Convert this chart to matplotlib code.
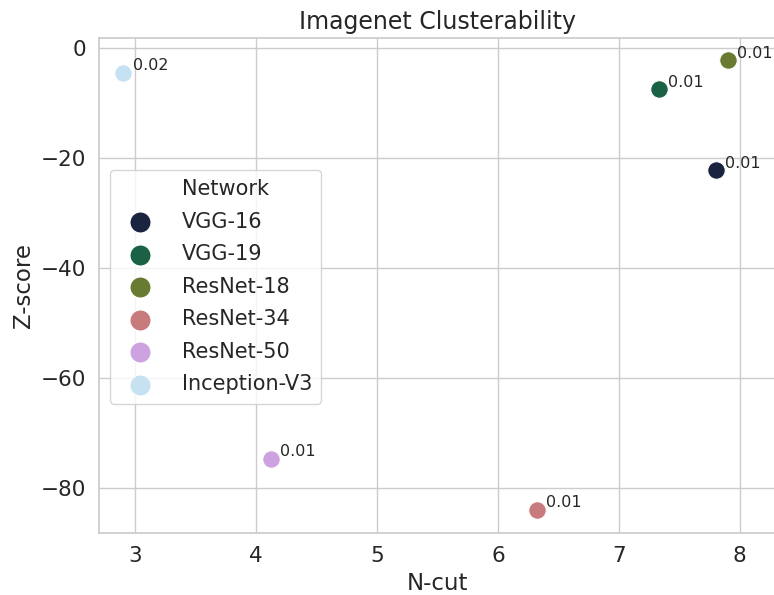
import matplotlib
matplotlib.use("Agg")
import matplotlib.pyplot as plt
import seaborn as sns

networks = ["VGG-16", "VGG-19", "ResNet-18", "ResNet-34", "ResNet-50", "Inception-V3"]
ncut = [7.80, 7.33, 7.90, 6.32, 4.12, 2.90]
zscore = [-22.2, -7.5, -2.2, -84.0, -74.7, -4.5]
pvalues = ["0.01", "0.01", "0.01", "0.01", "0.01", "0.02"]

sns.set_theme(style="whitegrid")
palette = sns.color_palette("cubehelix", len(networks))

W, H = 774, 595
fig = plt.figure(figsize=(W / 100, H / 100), dpi=100)
left, right, top, bottom = 99, 776, 37.5, 533
ax = fig.add_axes([left / W, 1 - bottom / H, (right - left) / W, (bottom - top) / H])

for name, x, y, c in zip(networks, ncut, zscore, palette):
    ax.scatter(x, y, s=160, color=c, label=name, edgecolor="white", linewidth=0.8, zorder=3)

for x, y, p in zip(ncut, zscore, pvalues):
    ax.annotate(p, (x, y), xytext=(7, 5), textcoords="offset points",
                fontsize=11.5, color="#262626", va="center", ha="left")

ax.set_xlim(2.70, 8.30)
ax.set_ylim(-88.2, 1.9)
ax.set_xlabel("N-cut", fontsize=16.5)
ax.set_ylabel("Z-score", fontsize=16.5)
ax.set_title("Imagenet Clusterability", fontsize=17)
ax.tick_params(axis="both", labelsize=15.5)

handles, labels = ax.get_legend_handles_labels()
title_handle = plt.Line2D([], [], linestyle="none", marker="")
leg = ax.legend([title_handle] + handles, ["Network"] + labels,
                loc="upper left", bbox_to_anchor=(0.016, 0.733), borderaxespad=0,
                frameon=True, fontsize=15, markerscale=1.2,
                handletextpad=1.0, labelspacing=0.6, borderpad=0.45)

fig.savefig("out.png", dpi=100)
